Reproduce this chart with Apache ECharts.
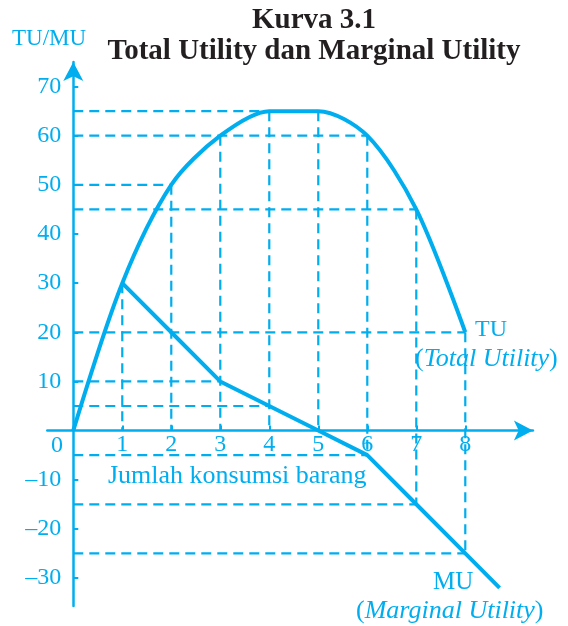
<!DOCTYPE html>
<html>
<head>
<meta charset="utf-8">
<script src="https://cdn.jsdelivr.net/npm/echarts@6/dist/echarts.min.js"></script>
<style>html,body{margin:0;padding:0;background:#fff;}#c{width:568px;height:626px;}</style>
</head>
<body>
<div id="c"></div>
<script>
// ---- data ----
var tuX = [0, 1, 2, 3, 4, 5, 6, 7, 8];
var tuY = [0, 30, 50, 60, 65, 65, 60, 45, 20];
var muX = [1, 2, 3, 4, 5, 6, 7, 8, 8.7];
var muY = [30, 20, 10, 5, 0, -5, -15, -25, -32];
var xTicks = [1, 2, 3, 4, 5, 6, 7, 8];
var yTicks = [-30, -20, -10, 10, 20, 30, 40, 50, 60, 70];
// horizontal guides: [y, xEnd]
var hGuideY = [65, 60, 50, 45, 20, 10, 5, -5, -15, -25];
var hGuideX = [5, 6, 2, 7, 8, 3, 4, 6, 7, 8];
// vertical guides: x, from yTop to yBottom
var vGuideX = [1, 2, 3, 4, 5, 6, 7, 8];
var vGuideTop = [30, 50, 60, 65, 65, 60, 45, 20];
var vGuideBot = [0, 0, 0, 0, 0, -5, -15, -25];

var CY = '#00AEEF';
var SERIF = '"Liberation Serif","Times New Roman",serif';

// grid geometry
var G = {left: 47.3, top: 62, width: 485.6, height: 544};
var XMIN = -0.53, XMAX = 9.38, YMIN = -35.7, YMAX = 75;
var x0px = G.left + (0 - XMIN) / (XMAX - XMIN) * G.width;
var y0px = G.top + (YMAX - 0) / (YMAX - YMIN) * G.height;
var xOffset = y0px - (G.top + G.height);   // move x axis up to y = 0
var yOffset = -(x0px - G.left);            // move y axis right to x = 0

var series = [];
hGuideY.forEach(function (y, i) {
  series.push({type: 'line', data: [[0, y], [hGuideX[i], y]], symbol: 'none', silent: true,
    lineStyle: {color: CY, width: 2.2, type: [10, 6]}, z: 1});
});
vGuideX.forEach(function (x, i) {
  series.push({type: 'line', data: [[x, vGuideTop[i]], [x, vGuideBot[i]]], symbol: 'none', silent: true,
    lineStyle: {color: CY, width: 2.2, type: [10, 6]}, z: 1});
});
series.push({type: 'line', name: 'TU', data: tuX.map(function (x, i) { return [x, tuY[i]]; }),
  smooth: 0.3, symbol: 'none', lineStyle: {color: CY, width: 4}, z: 3});
series.push({type: 'line', name: 'MU', data: muX.map(function (x, i) { return [x, muY[i]]; }),
  symbol: 'none', lineStyle: {color: CY, width: 4}, z: 3});

var chart = echarts.init(document.getElementById('c'), null, {renderer: 'canvas'});
chart.setOption({
  animation: false,
  backgroundColor: '#fff',
  title: {
    text: 'Kurva 3.1\nTotal Utility dan Marginal Utility',
    left: 309, top: 0, textAlign: 'center',
    textStyle: {fontFamily: SERIF, fontWeight: 'bold', fontSize: 29, lineHeight: 31, color: '#231F20'}
  },
  grid: {left: G.left, top: G.top, width: G.width, height: G.height, containLabel: false},
  xAxis: {
    type: 'value', min: XMIN, max: XMAX, position: 'bottom', offset: xOffset,
    splitLine: {show: false},
    axisLine: {onZero: false, lineStyle: {color: CY, width: 2.5}, symbol: ['none', 'arrow'], symbolSize: [15, 19]},
    axisTick: {show: true, inside: true, length: 5, customValues: xTicks, lineStyle: {color: CY, width: 2}},
    axisLabel: {customValues: xTicks, color: CY, fontFamily: SERIF, fontSize: 24, margin: 2}
  },
  yAxis: {
    type: 'value', min: YMIN, max: YMAX, position: 'left', offset: yOffset,
    splitLine: {show: false},
    axisLine: {onZero: false, lineStyle: {color: CY, width: 2.5}, symbol: ['none', 'arrow'], symbolSize: [15, 19]},
    axisTick: {show: true, inside: true, length: 5, customValues: yTicks, lineStyle: {color: CY, width: 2}},
    axisLabel: {customValues: yTicks, color: CY, fontFamily: SERIF, fontSize: 24, margin: 12,
      formatter: function (v) { return v < 0 ? '\u2013' + Math.abs(v) : String(v); }}
  },
  graphic: [
    {type: 'text', left: 12, top: 27, style: {text: 'TU/MU', fill: CY, font: '23px ' + SERIF}},
    {type: 'text', x: 57, y: 446, style: {text: '0', fill: CY, font: '24px ' + SERIF, align: 'center', verticalAlign: 'middle'}},
    {type: 'text', x: 108, y: 476, style: {text: 'Jumlah konsumsi barang', fill: CY, font: '26px ' + SERIF, verticalAlign: 'middle'}},
    {type: 'text', x: 475, y: 330, style: {text: 'TU', fill: CY, font: '24px ' + SERIF, verticalAlign: 'middle'}},
    {type: 'text', x: 415, y: 359, style: {
      text: '{p|(}{i|Total Utility}{p|)}', verticalAlign: 'middle',
      rich: {p: {fill: CY, fontFamily: SERIF, fontSize: 26}, i: {fill: CY, fontFamily: SERIF, fontSize: 26, fontStyle: 'italic'}}}},
    {type: 'text', x: 433, y: 582, style: {text: 'MU', fill: CY, font: '25px ' + SERIF, verticalAlign: 'middle'}},
    {type: 'text', x: 356, y: 611, style: {
      text: '{p|(}{i|Marginal Utility}{p|)}', verticalAlign: 'middle',
      rich: {p: {fill: CY, fontFamily: SERIF, fontSize: 26}, i: {fill: CY, fontFamily: SERIF, fontSize: 26, fontStyle: 'italic'}}}}
  ],
  series: series
});
</script>
</body>
</html>
